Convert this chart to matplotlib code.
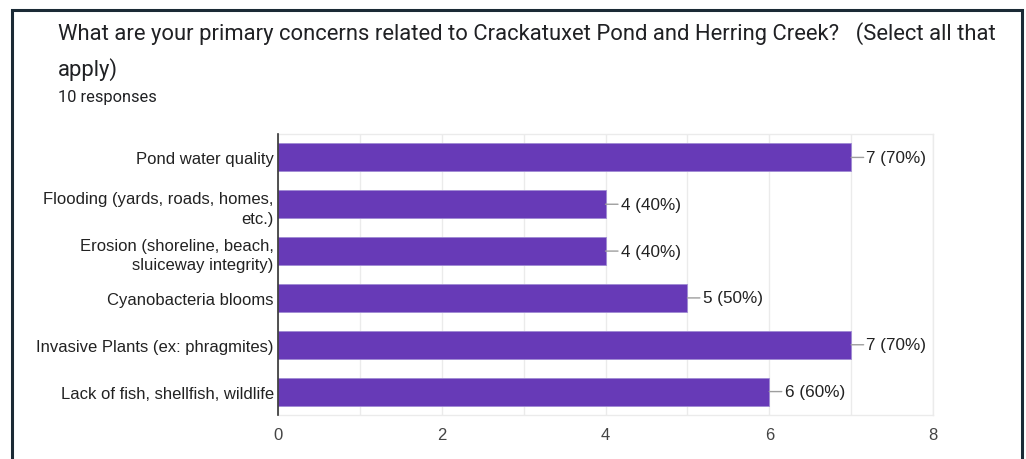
import matplotlib
matplotlib.use('Agg')
import matplotlib.pyplot as plt
from matplotlib.patches import Rectangle

# Survey data
categories = ['Pond water quality',
              'Flooding (yards, roads, homes,\netc.)',
              'Erosion (shoreline, beach,\nsluiceway integrity)',
              'Cyanobacteria blooms',
              'Invasive Plants (ex: phragmites)',
              'Lack of fish, shellfish, wildlife']
counts = [7, 4, 4, 5, 7, 6]
n_responses = 10
xticks = [0, 2, 4, 6, 8]

title_line1 = 'What are your primary concerns related to Crackatuxet Pond and Herring Creek?   (Select all that'
title_line2 = 'apply)'
subtitle = '10 responses'

purple = '#673ab7'
chart_font = 'Liberation Sans'

fig = plt.figure(figsize=(10.26, 4.6), dpi=100)
W, H = 1026.0, 460.0

# Dark card frame
fig.patches.append(Rectangle((11.5 / W, -0.1), (1022 - 11.5) / W, 1.1 - 10.5 / H,
                             transform=fig.transFigure, fill=False,
                             edgecolor='#1b2a35', linewidth=2.2))

# Titles
fig.text(58 / W, 1 - 40 / H, title_line1, fontsize=15.8, family='Roboto',
         color='#202124', va='baseline', ha='left')
fig.text(58 / W, 1 - 76 / H, title_line2, fontsize=15.8, family='Roboto',
         color='#202124', va='baseline', ha='left')
fig.text(58 / W, 1 - 102 / H, subtitle, fontsize=11.8, family='Roboto',
         color='#202124', va='baseline', ha='left')

ax = fig.add_axes([278 / W, 1 - 416 / H, (933 - 278) / W, (416 - 135) / H])

ypos = list(range(len(categories)))
ax.barh(ypos, counts, height=0.6, color=purple, edgecolor='#a08bd4',
        linewidth=0.6, zorder=3)

# Value labels with leader line
for y, c in zip(ypos, counts):
    pct = int(round(100.0 * c / n_responses))
    ax.annotate('%d (%d%%)' % (c, pct), xy=(c, y), xytext=(11, 0),
                textcoords='offset points', ha='left', va='center',
                fontsize=12.3, family=chart_font, color='#222222',
                arrowprops=dict(arrowstyle='-', color='#9e9e9e', lw=1,
                                shrinkA=0, shrinkB=0))

ax.set_xlim(0, 8)
ax.set_ylim(len(categories) - 0.5, -0.5)
ax.set_xticks(xticks)
ax.set_xticks(range(0, 9), minor=True)
ax.set_yticks(ypos)
ax.set_yticklabels(categories, fontsize=12, family=chart_font, color='#222222',
                   linespacing=1.4)
for lbl in ax.get_xticklabels():
    lbl.set_family(chart_font)
    lbl.set_fontsize(12)
    lbl.set_color('#444444')

ax.grid(axis='x', which='both', color='#ebebeb', linewidth=1, zorder=0)
ax.tick_params(axis='both', which='both', length=0)
ax.tick_params(axis='x', pad=9)
ax.tick_params(axis='y', pad=3)

for side in ['top', 'right', 'bottom']:
    ax.spines[side].set_color('#ebebeb')
    ax.spines[side].set_linewidth(1)
ax.spines['left'].set_color('#333333')
ax.spines['left'].set_linewidth(1.2)
ax.spines['left'].set_zorder(4)

fig.savefig('out.png', dpi=100)
